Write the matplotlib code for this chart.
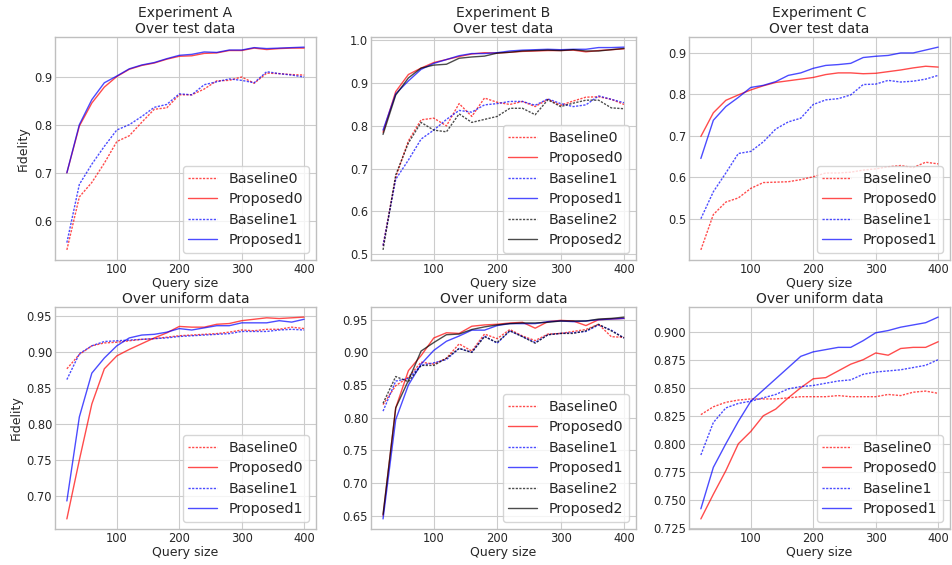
import numpy as np
import matplotlib
matplotlib.use("Agg")
import matplotlib.pyplot as plt

plt.style.use("seaborn-v0_8-whitegrid")
plt.rcParams['font.family'] = ['DejaVu Sans']

query_size = [20, 40, 60, 80, 100, 120, 140, 160, 180, 200,
              220, 240, 260, 280, 300, 320, 340, 360, 380, 400]

# Experiment A, test data
a_test_baseline0 = [0.54, 0.65, 0.68, 0.72, 0.765, 0.777, 0.805, 0.832, 0.835, 0.862,
                    0.862, 0.874, 0.891, 0.892, 0.899, 0.886, 0.907, 0.906, 0.904, 0.903]
a_test_proposed0 = [0.70, 0.797, 0.845, 0.878, 0.90, 0.915, 0.923, 0.928, 0.936, 0.942,
                    0.943, 0.948, 0.949, 0.954, 0.954, 0.959, 0.956, 0.958, 0.959, 0.959]
a_test_baseline1 = [0.555, 0.676, 0.718, 0.755, 0.789, 0.80, 0.817, 0.836, 0.842, 0.864,
                    0.862, 0.883, 0.889, 0.895, 0.892, 0.887, 0.910, 0.906, 0.903, 0.899]
a_test_proposed1 = [0.70, 0.80, 0.852, 0.887, 0.901, 0.916, 0.924, 0.929, 0.937, 0.944,
                    0.946, 0.951, 0.950, 0.955, 0.955, 0.960, 0.958, 0.959, 0.960, 0.961]

# Experiment B, test data
b_test_baseline0 = [0.52, 0.68, 0.765, 0.814, 0.818, 0.80, 0.852, 0.822, 0.865, 0.855,
                    0.85, 0.857, 0.845, 0.862, 0.848, 0.858, 0.867, 0.868, 0.862, 0.850]
b_test_proposed0 = [0.785, 0.88, 0.92, 0.935, 0.948, 0.955, 0.962, 0.968, 0.971, 0.970,
                    0.972, 0.974, 0.975, 0.976, 0.976, 0.977, 0.973, 0.976, 0.978, 0.980]
b_test_baseline1 = [0.52, 0.675, 0.72, 0.769, 0.79, 0.815, 0.836, 0.832, 0.849, 0.852,
                    0.857, 0.857, 0.848, 0.863, 0.852, 0.845, 0.849, 0.870, 0.862, 0.854]
b_test_proposed1 = [0.79, 0.875, 0.905, 0.932, 0.946, 0.955, 0.964, 0.969, 0.969, 0.971,
                    0.975, 0.977, 0.978, 0.979, 0.978, 0.979, 0.979, 0.983, 0.983, 0.984]
b_test_baseline2 = [0.51, 0.685, 0.76, 0.808, 0.79, 0.786, 0.828, 0.808, 0.815, 0.822,
                    0.841, 0.841, 0.826, 0.861, 0.845, 0.853, 0.860, 0.860, 0.842, 0.840]
b_test_proposed2 = [0.78, 0.872, 0.912, 0.935, 0.942, 0.944, 0.958, 0.961, 0.963, 0.970,
                    0.972, 0.975, 0.976, 0.977, 0.976, 0.978, 0.975, 0.975, 0.978, 0.981]

# Experiment C, test data
c_test_baseline0 = [0.425, 0.51, 0.54, 0.55, 0.573, 0.587, 0.588, 0.589, 0.594, 0.601,
                    0.610, 0.610, 0.612, 0.617, 0.620, 0.625, 0.628, 0.623, 0.636, 0.632]
c_test_proposed0 = [0.698, 0.755, 0.785, 0.798, 0.81, 0.82, 0.828, 0.832, 0.836, 0.840,
                    0.847, 0.851, 0.851, 0.849, 0.850, 0.854, 0.858, 0.863, 0.867, 0.865]
c_test_baseline1 = [0.50, 0.565, 0.61, 0.657, 0.662, 0.685, 0.716, 0.733, 0.742, 0.775,
                    0.786, 0.789, 0.798, 0.823, 0.824, 0.833, 0.829, 0.831, 0.836, 0.845]
c_test_proposed1 = [0.645, 0.737, 0.770, 0.792, 0.816, 0.821, 0.830, 0.845, 0.851, 0.862,
                    0.869, 0.871, 0.874, 0.888, 0.891, 0.893, 0.899, 0.899, 0.906, 0.913]

# Experiment A, uniform data
a_unif_baseline0 = [0.877, 0.897, 0.909, 0.913, 0.914, 0.916, 0.918, 0.919, 0.921, 0.923,
                    0.924, 0.925, 0.926, 0.928, 0.931, 0.930, 0.932, 0.932, 0.935, 0.933]
a_unif_proposed0 = [0.668, 0.75, 0.828, 0.877, 0.895, 0.904, 0.912, 0.920, 0.927, 0.936,
                    0.935, 0.935, 0.939, 0.940, 0.944, 0.946, 0.948, 0.947, 0.948, 0.949]
a_unif_baseline1 = [0.862, 0.898, 0.909, 0.915, 0.916, 0.917, 0.918, 0.919, 0.920, 0.922,
                    0.923, 0.924, 0.925, 0.926, 0.929, 0.929, 0.929, 0.931, 0.932, 0.931]
a_unif_proposed1 = [0.693, 0.81, 0.871, 0.892, 0.909, 0.920, 0.924, 0.925, 0.928, 0.933,
                    0.931, 0.934, 0.937, 0.937, 0.941, 0.941, 0.941, 0.944, 0.942, 0.946]

# Experiment B, uniform data
b_unif_baseline0 = [0.82, 0.849, 0.862, 0.885, 0.882, 0.891, 0.913, 0.902, 0.928, 0.921,
                    0.935, 0.925, 0.918, 0.928, 0.929, 0.932, 0.935, 0.943, 0.924, 0.923]
b_unif_proposed0 = [0.65, 0.815, 0.872, 0.895, 0.922, 0.930, 0.929, 0.940, 0.942, 0.943,
                    0.945, 0.946, 0.937, 0.947, 0.949, 0.948, 0.941, 0.950, 0.951, 0.952]
b_unif_baseline1 = [0.81, 0.856, 0.860, 0.880, 0.884, 0.889, 0.906, 0.900, 0.925, 0.914,
                    0.933, 0.924, 0.915, 0.927, 0.929, 0.930, 0.932, 0.942, 0.934, 0.922]
b_unif_proposed1 = [0.645, 0.797, 0.85, 0.882, 0.903, 0.917, 0.925, 0.934, 0.934, 0.941,
                    0.944, 0.944, 0.944, 0.947, 0.948, 0.947, 0.948, 0.950, 0.951, 0.952]
b_unif_baseline2 = [0.822, 0.863, 0.855, 0.880, 0.880, 0.891, 0.906, 0.900, 0.924, 0.915,
                    0.933, 0.924, 0.914, 0.927, 0.929, 0.929, 0.933, 0.943, 0.933, 0.922]
b_unif_proposed2 = [0.652, 0.815, 0.857, 0.902, 0.915, 0.927, 0.928, 0.935, 0.939, 0.942,
                    0.944, 0.945, 0.945, 0.946, 0.948, 0.948, 0.948, 0.951, 0.952, 0.954]

# Experiment C, uniform data
c_unif_baseline0 = [0.826, 0.833, 0.837, 0.839, 0.840, 0.840, 0.840, 0.841, 0.842, 0.842,
                    0.842, 0.843, 0.842, 0.842, 0.842, 0.844, 0.843, 0.846, 0.847, 0.845]
c_unif_proposed0 = [0.733, 0.755, 0.776, 0.800, 0.811, 0.825, 0.831, 0.841, 0.850, 0.858,
                    0.859, 0.865, 0.871, 0.875, 0.881, 0.879, 0.885, 0.886, 0.886, 0.891]
c_unif_baseline1 = [0.79, 0.819, 0.832, 0.836, 0.838, 0.841, 0.844, 0.849, 0.851, 0.852,
                    0.854, 0.856, 0.857, 0.862, 0.864, 0.865, 0.866, 0.868, 0.870, 0.875]
c_unif_proposed1 = [0.742, 0.779, 0.80, 0.82, 0.838, 0.848, 0.858, 0.868, 0.878, 0.882,
                    0.884, 0.886, 0.886, 0.892, 0.899, 0.901, 0.904, 0.906, 0.908, 0.913]

series_names = ["Baseline0", "Proposed0", "Baseline1", "Proposed1", "Baseline2", "Proposed2"]
colors = ["red", "red", "blue", "blue", "black", "black"]
dashed = (0, (1.6, 1.0))
styles = [dashed, "-", dashed, "-", dashed, "-"]

panels = [
    ("Experiment A\nOver test data", [a_test_baseline0, a_test_proposed0, a_test_baseline1, a_test_proposed1]),
    ("Experiment B\nOver test data", [b_test_baseline0, b_test_proposed0, b_test_baseline1, b_test_proposed1,
                                      b_test_baseline2, b_test_proposed2]),
    ("Experiment C\nOver test data", [c_test_baseline0, c_test_proposed0, c_test_baseline1, c_test_proposed1]),
    ("Over uniform data", [a_unif_baseline0, a_unif_proposed0, a_unif_baseline1, a_unif_proposed1]),
    ("Over uniform data", [b_unif_baseline0, b_unif_proposed0, b_unif_baseline1, b_unif_proposed1,
                           b_unif_baseline2, b_unif_proposed2]),
    ("Over uniform data", [c_unif_baseline0, c_unif_proposed0, c_unif_baseline1, c_unif_proposed1]),
]

W, H = 953, 565
fig = plt.figure(figsize=(W / 100, H / 100), dpi=100)
cols_px = [(55, 316), (371, 636), (689, 950)]
rows_px = [(37, 260), (307, 529)]

for idx, (title, data) in enumerate(panels):
    r, c = divmod(idx, 3)
    x0, x1 = cols_px[c]
    t0, t1 = rows_px[r]
    ax = fig.add_axes([x0 / W, 1 - t1 / H, (x1 - x0) / W, (t1 - t0) / H])
    for i, ys in enumerate(data):
        ax.plot(query_size, ys, linestyle=styles[i], color=colors[i], alpha=0.7,
                linewidth=1.0, label=series_names[i])
    ax.set_title(title, fontsize=10, color="0.15", pad=3)
    ax.set_xlabel("Query size", fontsize=9, color="0.15", labelpad=1)
    if c == 0:
        ax.set_ylabel("Fidelity", fontsize=9, color="0.15", labelpad=3)
    ax.tick_params(labelsize=8.3, colors="0.15", pad=2)
    ax.set_xticks([100, 200, 300, 400])
    for s in ax.spines.values():
        s.set_color("0.75")
    leg = ax.legend(loc="lower right", fontsize=10.3, frameon=True, framealpha=0.8,
                    handlelength=2, borderpad=0.4, labelspacing=0.45)
    leg.get_frame().set_edgecolor("0.8")

fig.savefig("out.png", dpi=100)
